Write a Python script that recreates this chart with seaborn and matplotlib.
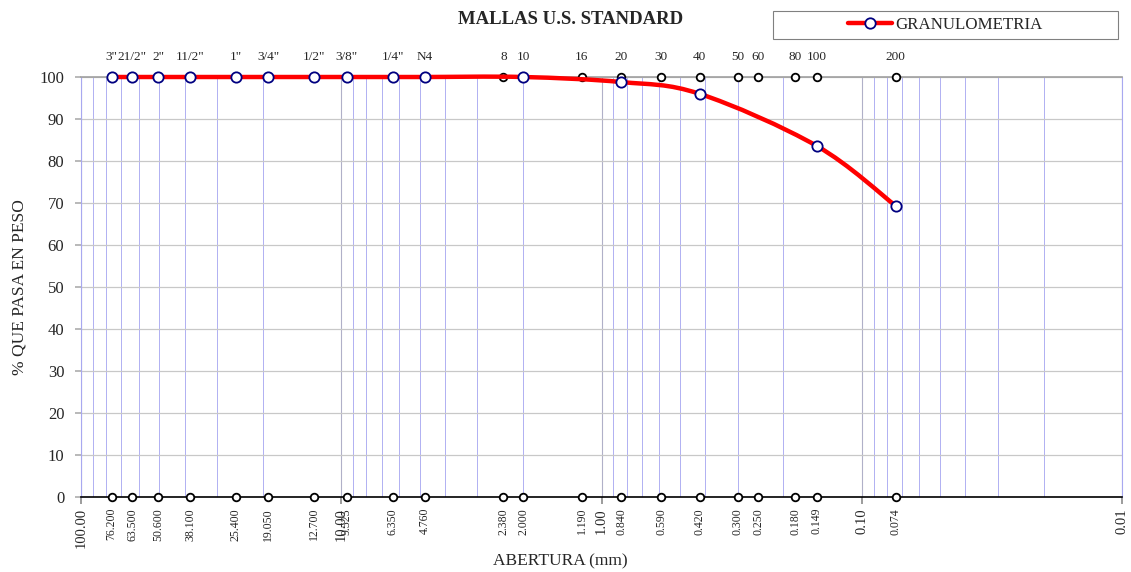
import numpy as np
import pandas as pd
import seaborn as sns
import matplotlib
matplotlib.use("Agg")
import matplotlib.pyplot as plt
from matplotlib.path import Path
from matplotlib.patches import PathPatch, Rectangle
from matplotlib.lines import Line2D
from matplotlib.ticker import FixedLocator, LogLocator, NullFormatter

# U.S. standard sieve series
sieve_names = ['3"', '21/2"', '2"', '11/2"', '1"', '3/4"', '1/2"', '3/8"', '1/4"', 'N4',
               '8', '10', '16', '20', '30', '40', '50', '60', '80', '100', '200']
sieve_mm = [76.200, 63.500, 50.600, 38.100, 25.400, 19.050, 12.700, 9.525, 6.350, 4.760,
            2.380, 2.000, 1.190, 0.840, 0.590, 0.420, 0.300, 0.250, 0.180, 0.149, 0.074]
sieve_labels = ["76.200", "63.500", "50.600", "38.100", "25.400", "19.050", "12.700", "9.525",
                "6.350", "4.760", "2.380", "2.000", "1.190", "0.840", "0.590", "0.420",
                "0.300", "0.250", "0.180", "0.149", "0.074"]

# Grain size analysis: opening (mm) and percent passing
gran_mm = [76.200, 63.500, 50.600, 38.100, 25.400, 19.050, 12.700, 9.525, 6.350, 4.760,
           2.000, 0.840, 0.420, 0.149, 0.074]
gran_pass = [100.0, 100.0, 100.0, 100.0, 100.0, 100.0, 100.0, 100.0, 100.0, 100.0,
             100.0, 98.8, 96.0, 83.6, 69.3]

major_ticks = [100, 10, 1, 0.1, 0.01]

sns.set_theme(style="white")
plt.rcParams['font.family'] = ['Liberation Serif', 'DejaVu Serif']

fig = plt.figure(figsize=(11.31, 5.72), dpi=100)
ax = fig.add_axes([81 / 1131, 1 - 497 / 572, 1041 / 1131, 420 / 572])

ax.set_xscale("log")
ax.set_xlim(100, 0.01)
ax.set_ylim(0, 100)

# grid
ax.xaxis.set_minor_locator(LogLocator(base=10, subs=np.arange(2, 10)))
ax.xaxis.set_minor_formatter(NullFormatter())
ax.grid(which="minor", axis="x", color="#b0b0f2", lw=0.7)
ax.grid(which="major", axis="x", color="#b0b0c8", lw=0.8)
ax.grid(which="major", axis="y", color="#c8c8c8", lw=0.9)
ax.set_axisbelow(True)

ax.xaxis.set_major_locator(FixedLocator(major_ticks))
ax.set_xticklabels([f"{v:.2f}" for v in major_ticks], rotation=90, fontsize=10.5)
ax.set_yticks(range(0, 101, 10))
ax.tick_params(axis="y", labelsize=12, length=4, color="#b0b0b0", direction="out", left=True, pad=8)
ax.tick_params(axis="x", which="major", length=5, color="#909090", direction="out", bottom=True, pad=3)
ax.tick_params(axis="x", which="minor", length=0)

for side in ["left", "right"]:
    ax.spines[side].set_color("#a8a8f0")
    ax.spines[side].set_linewidth(0.8)
ax.spines["top"].set_color("#a0a0a0")
ax.spines["top"].set_linewidth(1.2)
ax.spines["bottom"].set_color("black")
ax.spines["bottom"].set_linewidth(1.2)

# sieve markers on top and bottom
sieves = pd.DataFrame({"mm": sieve_mm * 2, "y": [0.0] * len(sieve_mm) + [100.0] * len(sieve_mm)})
sns.scatterplot(data=sieves, x="mm", y="y", ax=ax, s=30, color="white", edgecolor="black",
                linewidth=1.3, clip_on=False, zorder=4, legend=False)

xt = ax.get_xaxis_transform()
for mm, name, lab in zip(sieve_mm, sieve_names, sieve_labels):
    ax.text(mm, 1.048, name, transform=xt, ha="center", va="center", fontsize=9.5, clip_on=False)
    ax.text(mm, -0.026, lab, transform=xt, ha="center", va="top", rotation=90, fontsize=8.5,
            clip_on=False)

# smoothed grading curve (Catmull-Rom as cubic Bezier in log-x space)
lx = np.log10(gran_mm)
py = np.array(gran_pass)
n = len(lx)
verts = [(gran_mm[0], py[0])]
codes = [Path.MOVETO]
for i in range(n - 1):
    i0, i2, i3 = max(i - 1, 0), i + 1, min(i + 2, n - 1)
    c1 = (lx[i] + (lx[i2] - lx[i0]) / 6, py[i] + (py[i2] - py[i0]) / 6)
    c2 = (lx[i2] - (lx[i3] - lx[i]) / 6, py[i2] - (py[i3] - py[i]) / 6)
    verts += [(10 ** c1[0], c1[1]), (10 ** c2[0], c2[1]), (gran_mm[i2], py[i2])]
    codes += [Path.CURVE4] * 3
curve = PathPatch(Path(verts, codes), facecolor="none", edgecolor="#ff0000", lw=3.2,
                  clip_on=False, zorder=5, capstyle="round", joinstyle="round")
ax.add_patch(curve)

gran = pd.DataFrame({"mm": gran_mm, "pasa": gran_pass})
sns.scatterplot(data=gran, x="mm", y="pasa", ax=ax, s=55, color="white", edgecolor="#000080",
                linewidth=1.3, clip_on=False, zorder=6, legend=False)

ax.set_xlabel("ABERTURA (mm)", fontsize=12.5)
ax.xaxis.label.set_va("center")
ax.xaxis.set_label_coords((560 - 81) / 1041, -(561 - 497) / 420)
ax.set_ylabel("% QUE PASA EN PESO", fontsize=12.5)
ax.yaxis.label.set_va("center")
ax.yaxis.label.set_ha("center")
ax.yaxis.set_label_coords(-(81 - 20) / 1041, 0.5)

fig.text(571 / 1131, 1 - 19 / 572, "MALLAS U.S. STANDARD", ha="center", va="center",
         fontsize=13.5, fontweight="bold")

# legend box
fig.patches.append(Rectangle((773 / 1131, 1 - 39 / 572), 345 / 1131, 28 / 572,
                             transform=fig.transFigure, facecolor="white",
                             edgecolor="#808080", lw=0.8))
handle = Line2D([], [], color="#ff0000", lw=3.2, marker="o", markersize=7.5,
                markerfacecolor="white", markeredgecolor="#000080", markeredgewidth=1.3)
fig.legend([handle], ["GRANULOMETRIA"], loc="center", bbox_to_anchor=(945.5 / 1131, 1 - 25 / 572),
           frameon=False, fontsize=12.2, handlelength=2.6, handletextpad=0.2, borderpad=0)

fig.savefig("out.png", dpi=100)
